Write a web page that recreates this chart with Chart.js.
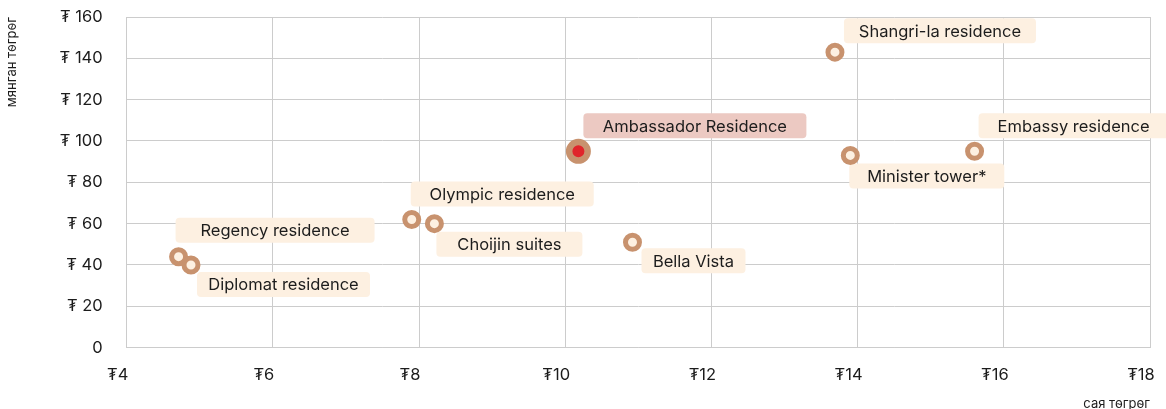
<!DOCTYPE html>
<html>
<head>
<meta charset="utf-8">
<script src="https://cdn.jsdelivr.net/npm/chart.js@4/dist/chart.umd.min.js"></script>
<style>
  html, body { margin: 0; padding: 0; background: #fff; }
  #wrap { width: 1166px; height: 409px; }
</style>
</head>
<body>
<div id="wrap"><canvas id="grafica"></canvas></div>
<script>
// data
var names = ['Regency residence', 'Diplomat residence', 'Olympic residence', 'Choijin suites',
             'Bella Vista', 'Ambassador Residence', 'Shangri-la residence', 'Minister tower*', 'Embassy residence'];
var saya = [4.71, 4.88, 7.9, 8.21, 10.92, 10.18, 13.69, 13.9, 15.6];     // сая төгрөг
var myangan = [44, 40, 62, 60, 51, 95, 143, 93, 95];                     // мянган төгрөг
var highlight = 'Ambassador Residence';

// where each tag box sits relative to its point: [dx, dy, width]
var tagPos = [[-3, -39, 199], [6, 7, 173], [-1, -38, 183], [2, 8, 146], [9, 6, 104],
              [5, -38, 223], [9, -34, 192], [-1, 8, 155], [4, -38, 190]];

var brown = '#c8926e';
var cream = '#fdf0e1';

var puntos = names.map(function(n, i){ return {x: saya[i], y: myangan[i]}; });
var esHigh = function(n){ return n === highlight; };

var tagPlugin = {
    id: 'tags',
    beforeDatasetsDraw: function(chart){
        var ctx = chart.ctx;
        var xs = chart.scales.x, ys = chart.scales.y;
        ctx.save();
        ctx.font = '16.5px Inter';
        ctx.textAlign = 'center';
        ctx.textBaseline = 'middle';
        names.forEach(function(n, i){
            var px = xs.getPixelForValue(saya[i]);
            var py = ys.getPixelForValue(myangan[i]);
            var p = tagPos[i];
            var bx = px + p[0], by = py + p[1], bw = p[2], bh = 25;
            ctx.fillStyle = esHigh(n) ? '#ecc9c2' : cream;
            ctx.beginPath();
            ctx.roundRect(bx, by, bw, bh, 4);
            ctx.fill();
            ctx.fillStyle = '#1c1c1c';
            ctx.fillText(n, bx + bw / 2, by + bh / 2 + 1);
        });
        ctx.restore();
    }
};

var radios = names.map(function(n){ return esHigh(n) ? 9.25 : 7; });
var bordes = names.map(function(n){ return esHigh(n) ? 6.5 : 5; });

var ctx = document.getElementById('grafica').getContext('2d');
var chart = new Chart(ctx, {
    type: 'scatter',
    data: {
        datasets: [{
            data: puntos,
            pointRadius: radios,
            pointHoverRadius: radios,
            pointBorderWidth: bordes,
            pointHoverBorderWidth: bordes,
            pointBorderColor: brown,
            pointBackgroundColor: names.map(function(n){ return esHigh(n) ? '#e0252b' : cream; })
        }]
    },
    options: {
        responsive: true,
        maintainAspectRatio: false,
        animation: false,
        layout: { padding: { top: 17, right: 16, left: 4, bottom: -3 } },
        plugins: { legend: { display: false }, tooltip: { enabled: false } },
        scales: {
            x: {
                type: 'linear',
                min: 4, max: 18,
                border: { color: '#cccccc' },
                grid: { color: '#cccccc', tickColor: 'rgba(0,0,0,0)', tickLength: 18 },
                ticks: {
                    stepSize: 2,
                    padding: 0,
                    labelOffset: -9,
                    color: '#1c1c1c',
                    font: { family: 'Inter', size: 16.5 },
                    callback: function(v){ return '₮' + v; }
                },
                title: {
                    display: true, text: 'сая төгрөг', align: 'end',
                    color: '#1c1c1c', font: { family: 'Inter', size: 13 },
                    padding: { top: 11, bottom: 0 }
                }
            },
            y: {
                min: 0, max: 160,
                border: { color: '#cccccc' },
                grid: { color: '#cccccc', tickColor: 'rgba(0,0,0,0)', tickLength: 24 },
                ticks: {
                    stepSize: 20,
                    padding: 0,
                    color: '#1c1c1c',
                    font: { family: 'Inter', size: 16.5 },
                    callback: function(v){ return v === 0 ? '0' : '₮ ' + v; }
                },
                title: {
                    display: true, text: 'мянган төгрөг', align: 'end',
                    color: '#1c1c1c', font: { family: 'Inter', size: 13 },
                    padding: { top: 0, bottom: 40 }
                }
            }
        }
    },
    plugins: [tagPlugin]
});
</script>
</body>
</html>
